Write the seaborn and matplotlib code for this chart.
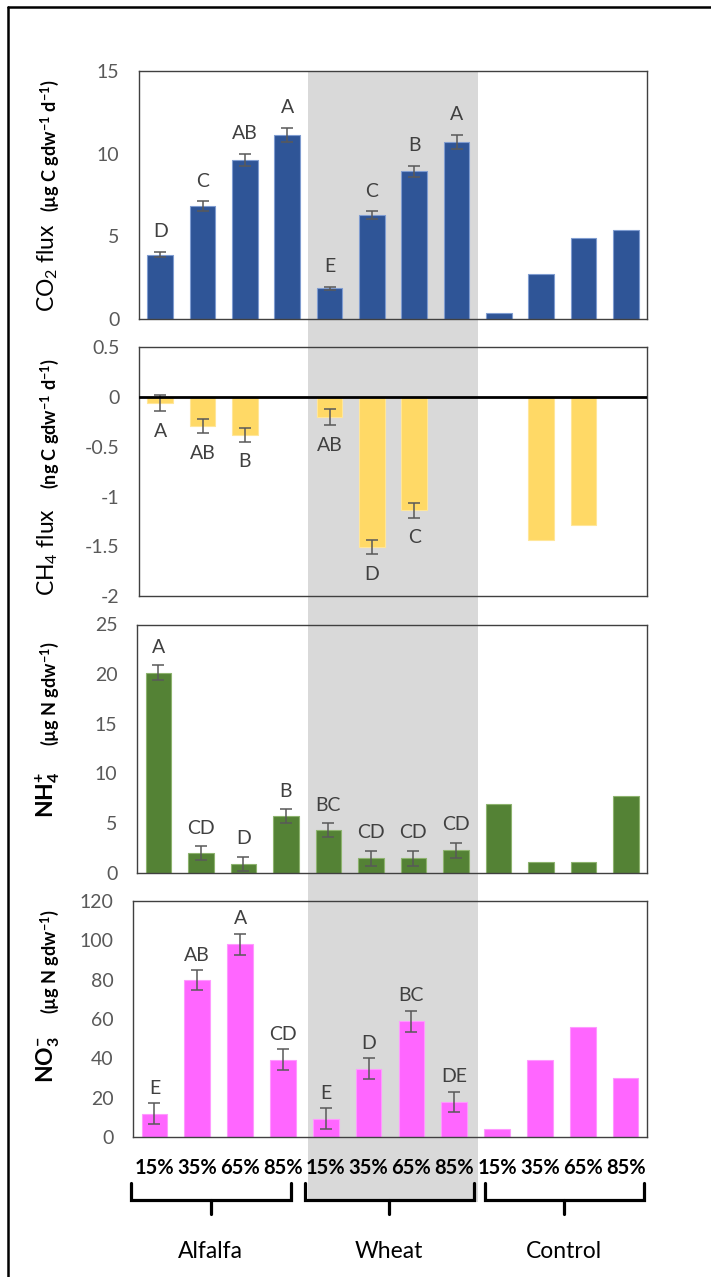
import numpy as np
import pandas as pd
import matplotlib
matplotlib.use("Agg")
import matplotlib.pyplot as plt
import matplotlib.transforms as mtransforms
from matplotlib.patches import Rectangle
from matplotlib.lines import Line2D
import seaborn as sns

# ---- data -------------------------------------------------------------
treatments = ["Alfalfa", "Wheat", "Control"]
moisture = ["15%", "35%", "65%", "85%"]
nan = np.nan

co2_mean = [3.90, 6.83, 9.62, 11.14, 1.87, 6.28, 8.92, 10.70, 0.37, 2.75, 4.93, 5.36]
co2_err = [0.16, 0.28, 0.38, 0.42, 0.08, 0.24, 0.34, 0.42, nan, nan, nan, nan]
co2_letters = ["D", "C", "AB", "A", "E", "C", "B", "A", "", "", "", ""]

ch4_mean = [-0.06, -0.29, -0.38, nan, -0.20, -1.51, -1.14, nan, nan, -1.44, -1.29, nan]
ch4_err = [0.085, 0.072, 0.07, nan, 0.08, 0.07, 0.072, nan, nan, nan, nan, nan]
ch4_letters = ["A", "AB", "B", "", "AB", "D", "C", "", "", "", "", ""]

nh4_mean = [20.14, 1.95, 0.91, 5.67, 4.26, 1.45, 1.45, 2.25, 6.87, 1.06, 1.06, 7.76]
nh4_err = [0.74, 0.70, 0.70, 0.70, 0.70, 0.77, 0.77, 0.77, nan, nan, nan, nan]
nh4_letters = ["A", "CD", "D", "B", "BC", "CD", "CD", "CD", "", "", "", ""]

no3_mean = [11.9, 79.7, 98.0, 39.3, 9.3, 34.8, 58.8, 17.8, 4.3, 38.9, 55.9, 30.2]
no3_err = [5.2, 5.0, 5.3, 5.2, 5.2, 5.2, 5.2, 5.0, nan, nan, nan, nan]
no3_letters = ["E", "AB", "A", "CD", "E", "D", "BC", "DE", "", "", "", ""]

# ---- style ------------------------------------------------------------
sns.set_style("white")
plt.rcParams["font.family"] = ["Lato", "DejaVu Sans"]
plt.rcParams["mathtext.fontset"] = "custom"
plt.rcParams["mathtext.rm"] = "Lato"
plt.rcParams["mathtext.it"] = "Lato:italic"
plt.rcParams["mathtext.bf"] = "Lato:bold"

W, H = 711, 1277
fig = plt.figure(figsize=(W / 100, H / 100), dpi=100)

GRAY_TXT = "#595959"
LETTER_C = "#404040"
SPINE_C = "#404040"


def rect(left, top, right, bottom):
    return [left / W, 1 - bottom / H, (right - left) / W, (bottom - top) / H]


conds = [f"{t} {m}" for t in treatments for m in moisture]
xpos = np.arange(len(conds))


def panel(box, mean, err, letters, color, edge, ylim, ticks, ticklabels, gap):
    ax = fig.add_axes(rect(*box))
    ax.set_facecolor("none")
    df = pd.DataFrame({"cond": conds, "value": mean})
    sns.barplot(data=df, x="cond", y="value", order=conds, color=color,
                saturation=1, width=0.6, errorbar=None, ax=ax,
                edgecolor=edge, linewidth=0.8, zorder=2)
    ax.errorbar(xpos, mean, yerr=err, fmt="none", ecolor="#595959",
                elinewidth=1.1, capsize=4.5, capthick=1.1, zorder=3)
    for i, (m, e, lab) in enumerate(zip(mean, err, letters)):
        if not lab:
            continue
        if m >= 0:
            y, dy = m + e, gap
        else:
            y, dy = m - e, -gap
        ax.annotate(lab, (i, y), xytext=(0, dy), textcoords="offset points",
                    ha="center", va="center", fontsize=14, color=LETTER_C)
    ax.set_xlim(-0.5, len(conds) - 0.5)
    ax.set_ylim(*ylim)
    ax.set_yticks(ticks, labels=ticklabels)
    ax.set_xlabel("")
    ax.set_ylabel("")
    ax.tick_params(axis="y", direction="in", length=5, width=1,
                   color=SPINE_C, pad=14, labelsize=14, labelcolor=GRAY_TXT)
    ax.tick_params(axis="x", length=0)
    ax.set_xticklabels([])
    for s in ax.spines.values():
        s.set_visible(True)
        s.set_color(SPINE_C)
        s.set_linewidth(1.0)
    return ax


ax1 = panel((139, 70.7, 647, 319.3), co2_mean, co2_err, co2_letters,
            "#2F5597", "#7F9CD0", (0, 15), [0, 5, 10, 15],
            ["0", "5", "10", "15"], 14.5)
ax2 = panel((139, 347.3, 647, 596), ch4_mean, ch4_err, ch4_letters,
            "#FFD966", "#FFE699", (-2, 0.5), [-2, -1.5, -1, -0.5, 0, 0.5],
            ["-2", "-1.5", "-1", "-0.5", "0", "0.5"], 14.5)
ax2.axhline(0, color="black", lw=2, zorder=4)
ax3 = panel((137, 624.5, 647, 872.7), nh4_mean, nh4_err, nh4_letters,
            "#548235", "#8DB36E", (0, 25), [0, 5, 10, 15, 20, 25],
            ["0", "5", "10", "15", "20", "25"], 13)
ax4 = panel((133, 901, 647, 1137), no3_mean, no3_err, no3_letters,
            "#FF66FF", "#FF99FF", (0, 120), [0, 20, 40, 60, 80, 100, 120],
            ["0", "20", "40", "60", "80", "100", "120"], 11)
ax4.set_xticks(xpos, labels=moisture * 3)
ax4.tick_params(axis="x", length=0, pad=15)
for lbl in ax4.get_xticklabels():
    lbl.set_fontweight("bold")
    lbl.set_fontsize(14.5)
    lbl.set_color("black")

# ---- shaded wheat band across all panels ---------------------------------
band_tr = mtransforms.blended_transform_factory(ax1.transData, fig.transFigure)
y_top, y_bot = 70.7, 1202
fig.add_artist(Rectangle((3.5, 1 - y_bot / H), 4.0, (y_bot - y_top) / H,
                         transform=band_tr, facecolor="#D9D9D9",
                         edgecolor="none", zorder=-1))

# ---- treatment brackets -----------------------------------------------
br_tr = mtransforms.blended_transform_factory(ax4.transData, fig.transFigure)
b_top, b_bot, b_tick = 1 - 1183 / H, 1 - 1200 / H, 1 - 1214 / H
brackets = [(-0.55, 3.18), (3.51, 7.45), (7.71, 11.42)]
for (x0, x1), name in zip(brackets, treatments):
    xc = (x0 + x1) / 2
    fig.add_artist(Line2D([x0, x0, x1, x1], [b_top, b_bot, b_bot, b_top],
                          transform=br_tr, color="black", lw=2.3,
                          solid_joinstyle="miter"))
    fig.add_artist(Line2D([xc, xc], [b_bot, b_tick], transform=br_tr,
                          color="black", lw=2.3))
    fig.text(xc, 1 - 1252 / H, name, transform=br_tr, ha="center",
             va="center", fontsize=16.5, color="black")

# ---- axis titles ------------------------------------------------------
ylab = [
    (r"CO$_2$ flux", "normal", 268, r"(µg C gdw$^{\mathbf{-1}}$ d$^{\mathbf{-1}}$)", 146),
    (r"CH$_4$ flux", "normal", 552, r"(ng C gdw$^{\mathbf{-1}}$ d$^{\mathbf{-1}}$)", 424),
    (r"NH$_\mathbf{4}^\mathbf{+}$", "bold", 795, r"(µg N gdw$^{\mathbf{-1}}$)", 694),
    (r"NO$_\mathbf{3}^\mathbf{-}$", "bold", 1060, r"(µg N gdw$^{\mathbf{-1}}$)", 962),
]
for main, wt, ym, unit, yu in ylab:
    fig.text(48 / W, 1 - ym / H, main, rotation=90, ha="center", va="center",
             fontsize=16.5, fontweight=wt, color="black")
    fig.text(50 / W, 1 - yu / H, unit, rotation=90, ha="center", va="center",
             fontsize=13, fontweight="bold", color="black")

# ---- outer frame ------------------------------------------------------
fig.add_artist(Line2D([8 / W, 8 / W], [0, 1 - 7 / H], transform=fig.transFigure,
                      color="black", lw=1.8))
fig.add_artist(Line2D([8 / W, 1], [1 - 7 / H, 1 - 7 / H],
                      transform=fig.transFigure, color="black", lw=1.8))

fig.savefig("out.png", dpi=100)
